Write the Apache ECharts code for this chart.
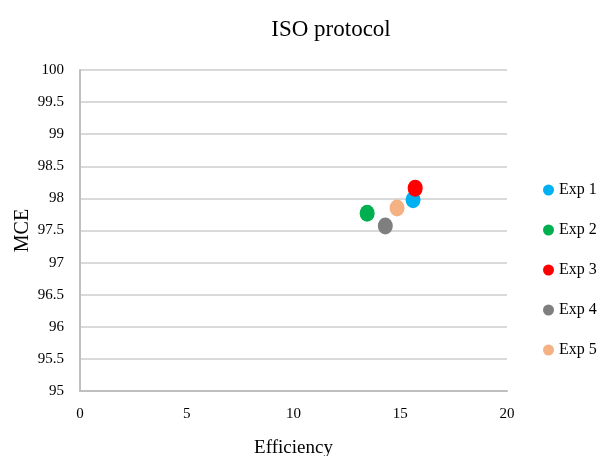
<!DOCTYPE html>
<html>
<head>
<meta charset="utf-8">
<script src="https://cdn.jsdelivr.net/npm/echarts@6/dist/echarts.min.js"></script>
<style>
  html, body { margin: 0; padding: 0; background: #fff; }
  #chart { width: 605px; height: 456px; }
</style>
</head>
<body>
<div id="chart"></div>
<script>
// Experiment names and their (Efficiency, MCE) results
const experiments = ['Exp 1', 'Exp 2', 'Exp 3', 'Exp 4', 'Exp 5'];
const efficiency = [15.6, 13.45, 15.7, 14.3, 14.85];
const mce = [97.98, 97.77, 98.16, 97.57, 97.85];
const colors = ['#00B0F0', '#00B050', '#FF0000', '#7F7F7F', '#F4B183'];

const font = '"Liberation Serif", "Times New Roman", serif';

const series = experiments.map((name, i) => ({
  name: name,
  type: 'scatter',
  data: [[efficiency[i], mce[i]]],
  symbol: 'circle',
  symbolSize: [15, 17],
  itemStyle: { color: colors[i], opacity: 1 },
  emphasis: { disabled: true }
}));

const chart = echarts.init(document.getElementById('chart'));
chart.setOption({
  animation: false,
  backgroundColor: '#ffffff',
  title: {
    text: 'ISO protocol',
    left: 326,
    textAlign: 'center',
    top: 13,
    textStyle: { fontFamily: font, fontSize: 23, fontWeight: 'normal', color: '#000' }
  },
  legend: {
    data: experiments,
    orient: 'vertical',
    left: 538,
    top: 177,
    itemGap: 24,
    itemWidth: 11,
    itemHeight: 11,
    icon: 'circle',
    textStyle: { fontFamily: font, fontSize: 16, color: '#000' }
  },
  grid: { left: 80, right: 98, top: 70, bottom: 65, containLabel: false, outerBoundsMode: 'none' },
  xAxis: {
    type: 'value',
    min: 0, max: 20, interval: 5,
    name: 'Efficiency',
    nameLocation: 'middle',
    nameGap: 48,
    nameMoveOverlap: false,
    nameTextStyle: { fontFamily: font, fontSize: 19, color: '#000' },
    axisLine: { show: true, lineStyle: { color: '#BFBFBF', width: 2 } },
    axisTick: { show: false },
    axisLabel: { fontFamily: font, fontSize: 15, color: '#000', margin: 16 },
    splitLine: { show: false }
  },
  yAxis: {
    type: 'value',
    min: 95, max: 100, interval: 0.5,
    name: 'MCE',
    nameLocation: 'middle',
    nameGap: 47,
    nameRotate: 90,
    nameMoveOverlap: false,
    nameTextStyle: { fontFamily: font, fontSize: 20, color: '#000' },
    axisLine: { show: true, lineStyle: { color: '#BFBFBF', width: 2 } },
    axisTick: { show: false },
    axisLabel: { fontFamily: font, fontSize: 15, color: '#000', margin: 16 },
    splitLine: { show: true, lineStyle: { color: '#D9D9D9', width: 2 } }
  },
  series: series
});
</script>
</body>
</html>
